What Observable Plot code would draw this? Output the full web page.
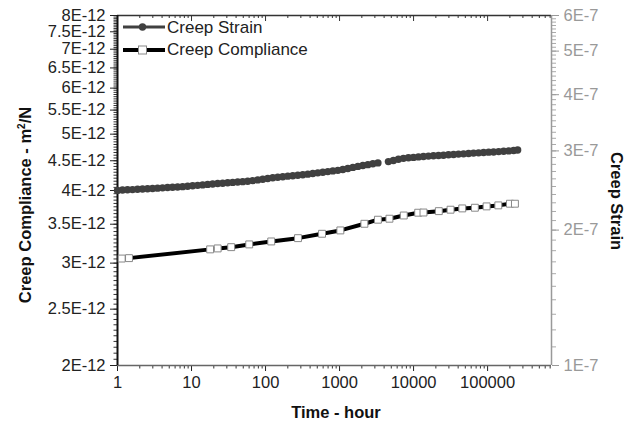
<!DOCTYPE html>
<html><head><meta charset="utf-8">
<script src="https://cdn.jsdelivr.net/npm/d3@7"></script>
<script src="https://cdn.jsdelivr.net/npm/@observablehq/plot@0.6"></script>
<style>
body{margin:0;background:#fff;font-family:"Liberation Sans",Arial,sans-serif;}
#wrap{position:relative;width:641px;height:429px;overflow:hidden;}
.t{position:absolute;font-weight:bold;font-size:16.5px;color:#111;white-space:nowrap;line-height:18px;}
.lg{position:absolute;font-size:17px;color:#222;white-space:nowrap;line-height:18px;}
</style></head><body><div id="wrap"></div>
<script>
// ---- data ----
const strainTime = [1, 1.169, 1.366, 1.596, 1.865, 2.179, 2.547, 2.976, 3.477, 4.064, 4.749, 5.549, 6.485, 7.578, 8.855, 10.35, 12.09, 14.13, 16.51, 19.30, 22.55, 26.35, 30.79, 35.98, 42.05, 49.14, 57.42, 67.10, 78.41, 91.63, 107.1, 125.2, 146.3, 171.0, 199.8, 233.4, 272.8, 318.8, 372.5, 435.3, 508.7, 594.5, 694.7, 811.8, 948.5, 1108, 1295, 1514, 1769, 2067, 2415, 2822, 3298, 4571, 5341, 6240, 7291, 8519, 9953, 11630, 13590, 15880, 18560, 21710, 25350, 29650, 34670, 40460, 47320, 55340, 64570, 75510, 88310, 103200, 120500, 140900, 164800, 192700, 224900, 254700];
const strainValue = [2.451, 2.455, 2.458, 2.461, 2.465, 2.469, 2.471, 2.475, 2.479, 2.483, 2.487, 2.490, 2.494, 2.498, 2.504, 2.509, 2.515, 2.521, 2.527, 2.533, 2.538, 2.543, 2.549, 2.553, 2.558, 2.563, 2.569, 2.577, 2.586, 2.595, 2.605, 2.615, 2.622, 2.629, 2.636, 2.642, 2.649, 2.656, 2.663, 2.672, 2.681, 2.690, 2.698, 2.708, 2.716, 2.727, 2.741, 2.757, 2.771, 2.784, 2.796, 2.808, 2.821, 2.840, 2.857, 2.875, 2.888, 2.897, 2.902, 2.909, 2.915, 2.921, 2.926, 2.931, 2.935, 2.941, 2.945, 2.951, 2.955, 2.961, 2.966, 2.970, 2.976, 2.981, 2.984, 2.989, 2.995, 3.000, 3.007, 3.014]; // x 1E-7
const complianceTime = [1.14, 1.43, 17.85, 22.55, 34.35, 60.2, 119.4, 274.5, 579.8, 1025, 2166, 3298, 4719, 7369, 11540, 13610, 21930, 31570, 45460, 67320, 96940, 139600, 200400, 234000];
const complianceValue = [3.055, 3.060, 3.168, 3.180, 3.196, 3.231, 3.269, 3.312, 3.370, 3.415, 3.506, 3.563, 3.577, 3.623, 3.663, 3.666, 3.686, 3.707, 3.726, 3.736, 3.756, 3.771, 3.796, 3.796]; // x 1E-12

const xTicks = [1, 10, 100, 1000, 10000, 100000];
const leftTicks = [2, 2.5, 3, 3.5, 4, 4.5, 5, 5.5, 6, 6.5, 7, 7.5, 8]; // x 1E-12
const rightTicks = [1, 2, 3, 4, 5, 6]; // x 1E-7
const xDomain = [1, 7.3e5];
const leftDomain = [2e-12, 8e-12];
const rightDomain = [1e-7, 6e-7];

// ---- helpers ----
const lr = Math.log(leftDomain[1] / leftDomain[0]);
const rr = Math.log(rightDomain[1] / rightDomain[0]);
const toLeft = v => leftDomain[0] * Math.exp(Math.log(v / rightDomain[0]) / rr * lr);
const fromLeft = d => rightDomain[0] * Math.exp(Math.log(d / leftDomain[0]) / lr * rr);

const strain = strainTime.map((t, i) => ({t, s: strainValue[i] * 1e-7}));
const compliance = complianceTime.map((t, i) => ({t, c: complianceValue[i] * 1e-12}));

const leftMajor = leftTicks.map(v => v * 1e-12);
const leftMinor = d3.range(40, 161).map(i => i * 5e-14);
const rightMajor = rightTicks.map(v => toLeft(v * 1e-7));
const rightMinor = d3.range(10, 61).map(i => toLeft(i * 1e-8));
const xMinor = [];
for (let k = 0; k <= 5; k++) for (let m = 2; m <= 9; m++) { const v = m * Math.pow(10, k); if (v <= xDomain[1]) xMinor.push(v); }

const blank = () => "";
const chart = Plot.plot({
  width: 641, height: 429,
  marginLeft: 117, marginRight: 90, marginTop: 15, marginBottom: 64,
  x: {type: "log", domain: xDomain},
  y: {type: "log", domain: leftDomain},
  style: {fontFamily: "'Liberation Sans', Arial, sans-serif", background: "white", color: "#222"},
  marks: [
    // left axis
    Plot.axisY({anchor: "left", ticks: leftMinor, tickSize: 3.5, tickFormat: blank, label: null, stroke: "#333"}),
    Plot.axisY({anchor: "left", ticks: leftMajor, tickSize: 7, tickPadding: 5, tickFormat: d => `${+(d * 1e12).toFixed(2)}E-12`, fontSize: 16.5, fill: "#222", stroke: "#222", label: null}),
    // right axis (strain)
    Plot.axisY({anchor: "right", ticks: rightMinor, tickSize: 4, tickFormat: blank, label: null, stroke: "#aaa"}),
    Plot.axisY({anchor: "right", ticks: rightMajor, tickSize: 7, tickPadding: 5, tickFormat: d => `${Math.round(fromLeft(d) / 1e-7)}E-7`, fontSize: 16.5, fill: "#999", stroke: "#999", label: null}),
    // bottom axis
    Plot.axisX({anchor: "bottom", ticks: xMinor, tickSize: 3.5, tickFormat: blank, label: null, stroke: "#333"}),
    Plot.axisX({anchor: "bottom", ticks: xTicks, tickSize: 6, tickPadding: 5, tickFormat: d => String(d), fontSize: 16.5, fill: "#222", stroke: "#222", label: null}),
    // top ticks (inward)
    Plot.tickX(xMinor, {x: d => d, insetBottom: 347, stroke: "#333"}),
    Plot.tickX(xTicks, {x: d => d, insetBottom: 344, stroke: "#333"}),
    // frame lines
    Plot.ruleY([leftDomain[0]], {stroke: "#666", strokeWidth: 1.5}),
    Plot.ruleY([leftDomain[1]], {stroke: "#333", strokeWidth: 1.5}),
    Plot.ruleX([xDomain[1]], {stroke: "#999", strokeWidth: 1.5}),
    Plot.ruleX([xDomain[0]], {stroke: "#111", strokeWidth: 2}),
    // data
    Plot.dot(strain, {x: "t", y: d => toLeft(d.s), r: 3.7, fill: "#404040", stroke: null}),
    Plot.line(compliance, {x: "t", y: "c", stroke: "#000", strokeWidth: 4}),
    Plot.dot(compliance, {x: "t", y: "c", symbol: "square", r: 3.9, fill: "white", stroke: "#888", strokeWidth: 1})
  ]
});
const wrap = document.getElementById("wrap");
wrap.appendChild(chart);
chart.style.position = "absolute"; chart.style.left = "0"; chart.style.top = "0";

// axis titles
function addDiv(cls, text, css) { const d = document.createElement("div"); d.className = cls; d.innerHTML = text; Object.assign(d.style, css); wrap.appendChild(d); return d; }
addDiv("t", "Creep Compliance - m<sup style='font-size:10px;line-height:0'>2</sup>/N", {left: "25px", top: "205px", transform: "translate(-50%,-50%) rotate(-90deg)"});
addDiv("t", "Creep Strain", {left: "617px", top: "201px", transform: "translate(-50%,-50%) rotate(90deg)"});
addDiv("t", "Time - hour", {left: "336px", top: "412px", transform: "translate(-50%,-50%)"});

// legend
const legendNames = ["Creep Strain", "Creep Compliance"];
const ns = "http://www.w3.org/2000/svg";
const lsvg = document.createElementNS(ns, "svg");
lsvg.setAttribute("width", "50"); lsvg.setAttribute("height", "44");
Object.assign(lsvg.style, {position: "absolute", left: "120px", top: "16px"});
lsvg.innerHTML = `
<line x1="3" x2="45" y1="11" y2="11" stroke="#404040" stroke-width="3"/>
<circle cx="22.5" cy="11" r="3.7" fill="#404040"/>
<line x1="3" x2="45" y1="34" y2="34" stroke="#000" stroke-width="4"/>
<rect x="18.5" y="30" width="8" height="8" fill="white" stroke="#888" stroke-width="1"/>`;
wrap.appendChild(lsvg);
addDiv("lg", legendNames[0], {left: "167px", top: "19px"});
addDiv("lg", legendNames[1], {left: "167px", top: "41px"});
</script></body></html>
